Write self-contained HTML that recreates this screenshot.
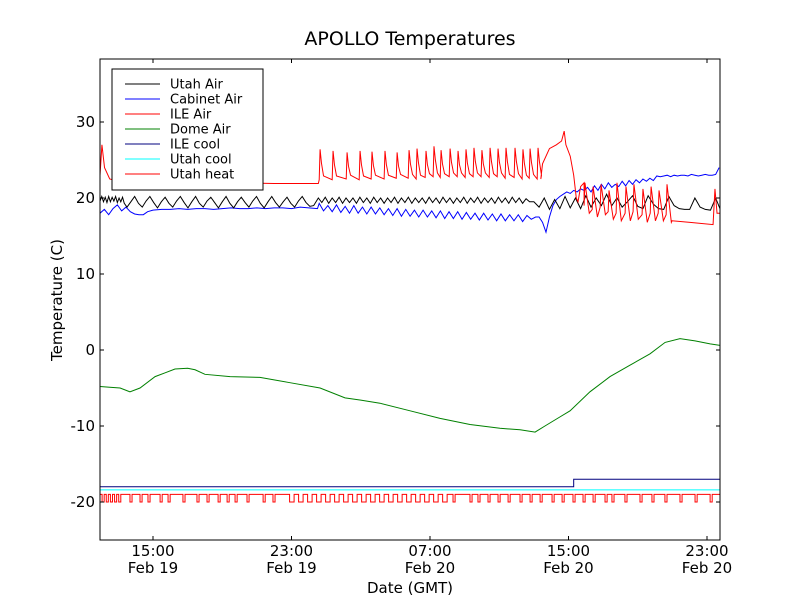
<!DOCTYPE html>
<html><head><meta charset="utf-8">
<style>
body{margin:0;background:#fff;}
svg{display:block;font-family:"DejaVu Sans","Liberation Sans",sans-serif;}
</style></head>
<body>
<svg id="chart" width="800" height="600" viewBox="0 0 800 600" xmlns="http://www.w3.org/2000/svg">
<rect width="800" height="600" fill="#fff"/>
<text x="410" y="45" font-size="19" text-anchor="middle">APOLLO Temperatures</text>
<defs><clipPath id="pc"><rect x="100" y="59" width="620" height="481"/></clipPath></defs>
<g id="series" clip-path="url(#pc)"></g>
<rect x="100" y="59" width="620" height="481" fill="none" stroke="#000" stroke-width="1"/>
<g id="axes"></g>
<text transform="translate(62,300) rotate(-90)" font-size="15" text-anchor="middle">Temperature (C)</text>
<text x="410" y="593" font-size="15" text-anchor="middle">Date (GMT)</text>
<g>
<rect x="112" y="69" width="151" height="121" fill="#fff" stroke="#000" stroke-width="1"/>
<g id="legend"></g>
</g>
</svg>
<script>
// time in hours since Feb 19 00:00 GMT
const xTickHours = [15, 23, 31, 39, 47];
const xTickTimes = ["15:00", "23:00", "07:00", "15:00", "23:00"];
const xTickDates = ["Feb 19", "Feb 19", "Feb 20", "Feb 20", "Feb 20"];
const yTicks = [30, 20, 10, 0, -10, -20];
const seriesNames = ["Utah Air", "Cabinet Air", "ILE Air", "Dome Air", "ILE cool", "Utah cool", "Utah heat"];
const seriesColors = ["#000000", "#0000ff", "#ff0000", "#008000", "#00007f", "#00ffff", "#ff0000"];

// Dome Air
const domeT = [11.94,12.5,13.1,13.67,14.25,15.12,15.7,16.27,17.0,17.43,18.0,19.45,21.18,22.91,24.65,26.09,27.0,28.11,29.85,31.58,33.31,35.04,36.2,37.07,37.64,38.51,39.09,40.24,41.4,42.55,43.71,44.58,45.44,46.31,47.18,47.8];
const domeV = [-4.8,-4.9,-5.0,-5.5,-5.0,-3.5,-3.0,-2.5,-2.4,-2.6,-3.2,-3.5,-3.6,-4.3,-5.0,-6.3,-6.6,-7.0,-8.0,-9.0,-9.8,-10.3,-10.5,-10.8,-10.0,-8.8,-8.0,-5.5,-3.5,-2.0,-0.5,1.0,1.5,1.2,0.8,0.6];

// Utah Air regular segments
const utahAirA = [19.6,20.2,19.5,20.1,19.4,20.2,19.5,20.1,19.6,20.2,19.4,20.0,19.5,20.1,19.3];
const utahAirB = [18.8,19.5,20.2,19.3,18.8,19.6,20.2,19.4,18.7,19.5,20.1,19.3,18.8,19.6,20.2,19.4,18.7,19.5,20.2,19.3,18.8,19.6,20.1,19.4,18.7,19.5,20.2,19.3,18.7,19.5,20.1,19.4,18.8,19.6,20.2,19.3,18.7,19.5,20.2,19.4,18.8,19.5,20.1,19.3,18.8,19.6,20.2,19.4,18.9,19.0];
const utahAirC = [20.0,19.4,20.1,19.3,20.0,19.4,20.1,19.3,20.0,19.4,20.0,19.3,20.1,19.4,20.0,19.3,20.1,19.4,20.0,19.3,20.0,19.4,20.1,19.3,20.0,19.4,20.1,19.3,20.0,19.4,20.0,19.3,20.1,19.4,20.0,19.3,20.1,19.4,20.0,19.3,20.0,19.4,20.1,19.3,20.0,19.4,20.1,19.3,20.0,19.4,20.0,19.3,20.1,19.4,20.0,19.3,20.1,19.4,20.0,19.3,19.9,19.5];
const utahAirD = [19.5,18.8,20.0,18.5,19.8,18.6,20.2,18.7,20.0,18.6,20.3,18.8,20.0,19.0,20.5,19.0,20.0,18.8,19.5,20.3,18.9,18.6,20.3,19.2,18.6,18.5,20.2,19.0,18.6,18.5,18.5,20.0,18.8,18.5,18.4,20.0,18.3];
// ILE Air spikes
const ileSpikeT = [24.65,25.40,26.21,26.96,27.65,28.40,29.10,29.79,30.25,30.77,31.23,31.64,32.16,32.62,33.08,33.54,34.00,34.47,34.93,35.39,35.91,36.37,36.78,37.24];
const ileSpikePeak = [26.4,26.2,26.0,26.2,26.1,26.2,26.0,26.3,26.5,26.2,26.8,26.3,26.5,26.2,26.4,26.6,26.3,26.6,26.5,26.6,26.6,26.4,26.5,26.6];
const ileSpikeLow = [22.4,22.4,22.5,22.4,22.5,22.5,22.6,22.6,22.5,22.7,22.8,22.7,22.8,22.8,22.7,22.8,22.8,22.7,22.8,22.6,22.7,22.5,22.6,22.5];
const ileStartT = [11.94,12.05,12.2,12.5,13.0,16.0,20.0,22.0,24.55];
const ileStartV = [23.0,27.0,24.0,22.5,22.2,22.1,22.0,21.9,21.9];
const ileMidT = [37.4,37.5,37.9,38.3,38.6,38.75,38.85,39.1,39.3,39.45,39.55,39.7,39.9];
const ileMidV = [22.5,24.5,26.5,27.0,27.5,28.8,27.0,25.5,23.0,20.0,19.5,21.5,22.0];
const ileOscT = [39.95,40.42,40.88,41.34,41.80,42.32,42.78,43.30,43.77,44.23,44.69];
const ileOscPeak = [22.0,21.5,21.8,21.0,22.0,21.5,21.8,21.2,21.5,21.0,21.8];
const ileOscLow = [18.0,17.5,17.8,17.2,17.0,17.0,17.2,16.8,17.0,17.0,16.8];
const ileEndT = [44.98,46.02,47.35,47.46,47.58,47.8];
const ileEndV = [17.0,16.8,16.5,21.2,18.0,18.0];
// Cabinet Air segments
const cabA = [18.0,18.5,17.8,18.6,19.1,18.3,18.8,18.2,17.9,17.8,17.8,18.2];
const cabB = [18.4,18.5,18.5,18.6,18.5,18.6,18.6,18.5,18.6,18.7,18.6,18.6,18.7,18.6,18.7,18.7,18.6,18.8,18.7,18.6];
const cabC = [19.3,18.3,19.0,18.2,19.1,18.1,18.9,18.0,19.0,18.0,18.8,17.9,18.8,17.9,18.7,17.8,18.6,17.7,18.6,17.6,18.5,17.6,18.4,17.5,18.4,17.5,18.3,17.4,18.3,17.3,18.2,17.3,18.2,17.2,18.1,17.2,18.0,17.1,18.0,17.1,17.9,17.0,17.9,17.0,17.8,17.0,17.8,16.9,17.7,17.2,17.5];
const cabD = [17.5,16.8,15.5,17.5,19.0,19.8,20.2,20.5,20.8,20.6,21.0,20.8,21.2,21.0,21.4,20.8,21.6,21.0,21.8,21.2,22.0,21.4,21.8,21.5,22.2,21.6,22.3,21.8,22.4,22.0,22.5,22.2,22.6,22.3,22.9,22.8,22.9,23.0,22.8,23.0,22.9,23.0,23.0,22.9,23.1,23.0,22.9,23.0,23.1,23.0,23.0,23.1,24.0];
// ILE cool / Utah cool
const ileCoolT = [11.94,39.3,39.3,47.8];
const ileCoolV = [-18.0,-18.0,-17.0,-17.0];
const utahCoolT = [11.94,47.8];
const utahCoolV = [-18.4,-18.4];
// Utah heat
const heatBase = -19;
const heatLow = -20;
const heatDenseA = [-19,-20,-19,-20,-19,-20,-19,-20,-19,-20,-19];
const heatPulsesA = [13.67,14.25,14.71,15.41,15.87,16.73,17.54,18.12,18.76,19.28,19.74,20.43,21.36,21.93];
const heatDenseB = [-19,-20,-19,-20,-19,-20,-19,-20,-19,-20,-19,-20,-19,-20,-19,-20,-19,-20,-19,-20,-19,-20,-19,-20,-19,-20,-19,-20,-19,-20,-19,-20,-19,-20,-19,-20,-19];
const heatPulsesC = [32.33,33.31,33.77,34.35,34.93,35.51,36.2,36.78,37.36,38.05,38.63,39.26,39.84,40.42,41.11,41.51,42.26,43.13,43.82,44.57,45.44,46.31,47.18];

const X0 = 153, PXH = 17.3125;
function xs(t){ return X0 + (t - 15) * PXH; }
function ys(v){ return 350 - v * 7.6; }
const NS = "http://www.w3.org/2000/svg";
const gS = document.getElementById('series');
const gA = document.getElementById('axes');
const gL = document.getElementById('legend');

function reg(t0, step, vals, out){ vals.forEach((v,i)=>out.push([t0+i*step, v])); }
function pairs(T, V, out){ T.forEach((t,i)=>out.push([t, V[i]])); }
function line(pts, color, name){
  const p = document.createElementNS(NS,'polyline');
  p.setAttribute('points', pts.map(q=>xs(q[0]).toFixed(2)+','+ys(q[1]).toFixed(2)).join(' '));
  p.setAttribute('fill','none'); p.setAttribute('stroke',color); p.setAttribute('stroke-width','1');
  
  
  gS.appendChild(p);
}
function stepPts(t0, step, vals, out){ vals.forEach((v,i)=>{ out.push([t0+i*step, v]); out.push([t0+(i+1)*step, v]); }); }
function pulses(T, w, out){ T.forEach(t=>{ out.push([t, heatBase]); out.push([t, heatLow]); out.push([t+w, heatLow]); out.push([t+w, heatBase]); }); }

let dome=[]; pairs(domeT, domeV, dome); line(dome, seriesColors[3], 'dome-air-line');
let ic=[]; pairs(ileCoolT, ileCoolV, ic); line(ic, seriesColors[4], 'ile-cool-line');
let uc=[]; pairs(utahCoolT, utahCoolV, uc); line(uc, seriesColors[5], 'utah-cool-line');
let uh=[]; stepPts(11.94, 0.12, heatDenseA, uh); pulses(heatPulsesA, 0.12, uh);
stepPts(22.63, 0.26, heatDenseB, uh); pulses(heatPulsesC, 0.12, uh); uh.push([47.8, heatBase]);
line(uh, seriesColors[6], 'utah-heat-line');
let cab=[]; reg(11.94,0.25,cabA,cab); reg(15.0,0.5,cabB,cab); reg(24.6,0.25,cabC,cab); reg(37.3,0.2,cabD,cab);
line(cab, seriesColors[1], 'cabinet-air-line');
let ua=[]; reg(11.94,0.1,utahAirA,ua); reg(13.5,0.22,utahAirB,ua); reg(24.55,0.2,utahAirC,ua); reg(37.0,0.3,utahAirD,ua);
line(ua, seriesColors[0], 'utah-air-line');
let ile=[]; pairs(ileStartT, ileStartV, ile);
ileSpikeT.forEach((t,i)=>{ ile.push([t-0.05, ileSpikeLow[i]]); ile.push([t, ileSpikePeak[i]]); ile.push([t+0.08, ileSpikePeak[i]-1.8]); ile.push([t+0.2, ileSpikeLow[i]+0.5]); });
pairs(ileMidT, ileMidV, ile);
ileOscT.forEach((t,i)=>{ ile.push([t-0.05, ileOscLow[i]+1]); ile.push([t, ileOscPeak[i]]); ile.push([t+0.25, ileOscLow[i]]); });
pairs(ileEndT, ileEndV, ile);
line(ile, seriesColors[2], 'ile-air-line');

function mk(tag, attrs, parent){ const e=document.createElementNS(NS,tag); for(const k in attrs) e.setAttribute(k, attrs[k]); parent.appendChild(e); return e; }
yTicks.forEach(v=>{
  const y=ys(v);
  const l1=mk('line',{x1:100,x2:104,y1:y,y2:y,stroke:'#000'},gA);
  
  
  const l2=mk('line',{x1:716,x2:720,y1:y,y2:y,stroke:'#000'},gA);
  
  
  const t=mk('text',{x:95,y:y+5,'font-size':15,'text-anchor':'end'},gA);
  t.textContent=String(v);
  
  
});
xTickHours.forEach((h,i)=>{
  const x=xs(h);
  const l1=mk('line',{x1:x,x2:x,y1:540,y2:536,stroke:'#000'},gA);
  
  
  const l2=mk('line',{x1:x,x2:x,y1:59,y2:63,stroke:'#000'},gA);
  
  
  const t=mk('text',{x:x,y:556,'font-size':15,'text-anchor':'middle'},gA);
  t.textContent=xTickTimes[i];
  
  
  const d=mk('text',{x:x,y:573,'font-size':15,'text-anchor':'middle'},gA);
  d.textContent=xTickDates[i];
  
  
});
seriesNames.forEach((n,i)=>{
  const y=84+i*15;
  const g=mk('g',{},gL);
  
  
  mk('line',{x1:125,x2:160,y1:y,y2:y,stroke:seriesColors[i],'stroke-width':1},g);
  const t=mk('text',{x:170,y:y+4.5,'font-size':13},g);
  t.textContent=n;
});
</script>
</body></html>
